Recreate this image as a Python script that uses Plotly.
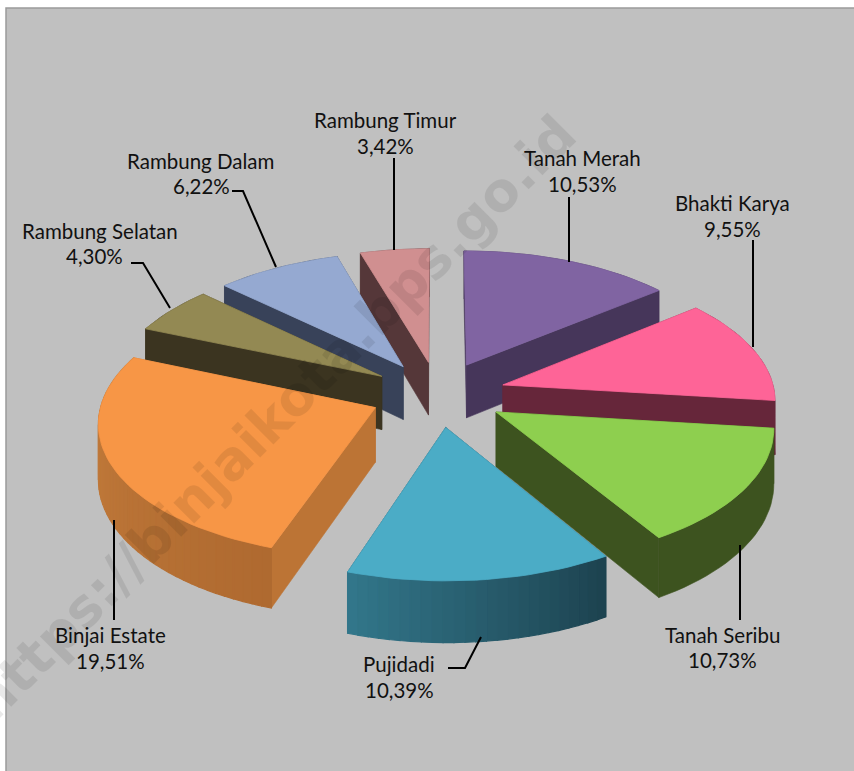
import math
import plotly.graph_objects as go

categories = ["Tanah Merah", "Bhakti Karya", "Tanah Seribu", "Pujidadi", "Binjai Estate",
              "Rambung Selatan", "Rambung Dalam", "Rambung Timur"]
values = [10.53, 9.55, 10.73, 10.39, 19.51, 4.30, 6.22, 3.42]
value_labels = ["10,53%", "9,55%", "10,73%", "10,39%", "19,51%", "4,30%", "6,22%", "3,42%"]

top_colors = ["#8064A2", "#FE6497", "#8ECF4F", "#4BACC6", "#F79646", "#938953", "#95A9D1", "#D08F90"]
cut_colors = ["#46365A", "#66263A", "#3D531F", "#1D4350", "#BC7435", "#3B3420", "#384259", "#553739"]
side_start = ["#46365A", "#66263A", "#3D531F", "#1D4350", "#AF6A30", "#3B3420", "#384259", "#553739"]
side_end = ["#46365A", "#66263A", "#3D531F", "#33788C", "#C8803E", "#3B3420", "#384259", "#553739"]
paint_order = [0, 7, 6, 5, 1, 4, 2, 3]

name_pos = [(582, 158), (732, 203), (722, 635), (399, 664), (110, 635), (100, 231), (200, 161), (385, 120)]
value_pos = [(582, 184), (732, 229), (722, 660), (399, 690), (110, 661), (94, 256), (201, 186), (385, 146)]

leaders = [
    [(569, 197), (569, 262)],
    [(753, 240), (753, 347)],
    [(740, 545), (740, 620)],
    [(448, 668), (465, 668), (481, 637)],
    [(114, 520), (114, 620)],
    [(131, 263), (143, 263), (170, 308)],
    [(232, 191), (243, 191), (276, 267)],
    [(394, 158), (394, 250)],
]

CX, CY, RX, RY, K, PULL, DEPTH = 438, 394, 272, 131, 0.1, 0.25, 54


def project(x, y, low=False):
    s = 1 / (1 + K * y)
    return CX + RX * x * s, CY - RY * y * s + (DEPTH * s if low else 0)


def mix(a, b, t):
    ca = [int(a[i:i + 2], 16) for i in (1, 3, 5)]
    cb = [int(b[i:i + 2], 16) for i in (1, 3, 5)]
    return "#%02X%02X%02X" % tuple(round(p + (q - p) * t) for p, q in zip(ca, cb))


fig = go.Figure()


def poly(pts, color, name="", lw=0.6):
    xs = [p[0] for p in pts] + [pts[0][0]]
    ys = [p[1] for p in pts] + [pts[0][1]]
    fig.add_trace(go.Scatter(x=xs, y=ys, mode="lines", fill="toself", fillcolor=color,
                             line=dict(color=color, width=lw), hoverinfo="skip",
                             showlegend=False, name=name))


total = sum(values)
slices = []
ang = 0.0
for i, v in enumerate(values):
    sweep = v / total * 2 * math.pi
    a0 = ang
    ang += sweep
    mid = a0 + sweep / 2
    ox, oy = PULL * math.sin(mid), PULL * math.cos(mid)
    n = max(6, int(sweep / math.radians(2)))
    rim = [(ox + math.sin(a0 + sweep * j / n), oy + math.cos(a0 + sweep * j / n)) for j in range(n + 1)]
    slices.append(((ox, oy), rim))

for i in paint_order:
    apex, rim = slices[i]
    faces = []
    for p in (rim[0], rim[-1]):
        quad = [project(*apex), project(*p), project(*p, True), project(*apex, True)]
        faces.append((sum(q[1] for q in quad) / 4, quad, cut_colors[i], 0.6))
    if side_start[i] == side_end[i]:
        band = [project(*p) for p in rim] + [project(*p, True) for p in reversed(rim)]
        faces.append((sum(q[1] for q in band) / len(band) + 1, band, side_start[i], 0.6))
    else:
        n = len(rim) - 1
        for j in range(n):
            quad = [project(*rim[j]), project(*rim[j + 1]), project(*rim[j + 1], True), project(*rim[j], True)]
            col = mix(side_start[i], side_end[i], j / n)
            faces.append((sum(q[1] for q in quad) / 4 + 1, quad, col, 1.2))
    faces.sort(key=lambda f: f[0])
    for _, pts, col, lw in faces:
        poly(pts, col, lw=lw)
    poly([project(*apex)] + [project(*p) for p in rim], top_colors[i], categories[i], lw=0.8)

for seg in leaders:
    fig.add_trace(go.Scatter(x=[p[0] for p in seg], y=[p[1] for p in seg], mode="lines",
                             line=dict(color="#000000", width=2), hoverinfo="skip", showlegend=False))

annotations = []
for text, (x, y) in list(zip(categories, name_pos)) + list(zip(value_labels, value_pos)):
    annotations.append(dict(x=x, y=y, xref="x", yref="y", text=text, showarrow=False,
                            align="center", font=dict(family="Lato", size=20.5, color="#111111")))
annotations.append(dict(x=273, y=418, xref="x", yref="y", text="<b>https://binjaikota.bps.go.id</b>",
                        showarrow=False, textangle=-45,
                        font=dict(family="DejaVu Sans", size=54, color="rgba(0,0,0,0.085)")))

fig.update_layout(
    width=854, height=771, margin=dict(l=0, r=0, t=0, b=0),
    paper_bgcolor="#FFFFFF", plot_bgcolor="#FFFFFF",
    xaxis=dict(range=[0, 854], visible=False, fixedrange=True),
    yaxis=dict(range=[771, 0], visible=False, fixedrange=True),
    annotations=annotations,
    shapes=[dict(type="rect", xref="x", yref="y", x0=6, y0=8, x1=860, y1=780, layer="below",
                 fillcolor="#C0C0C0", line=dict(color="#9A9A9A", width=1.5))],
)
fig.write_html("out.html", config=dict(displayModeBar=False),
               post_script="document.body.style.margin='0';document.body.style.overflow='hidden';")
